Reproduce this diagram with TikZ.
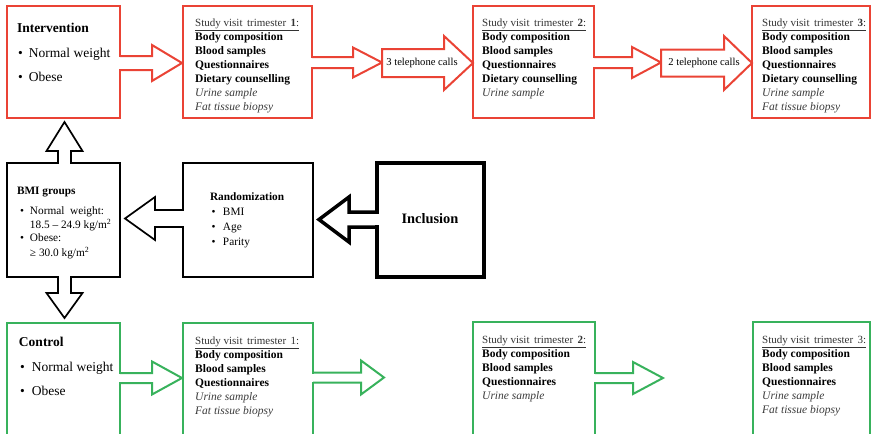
\documentclass[tikz,border=0pt]{standalone}
\usepackage{fontspec}
\setmainfont{Liberation Serif}
\usetikzlibrary{calc}
\definecolor{redc}{RGB}{234,67,53}
\definecolor{greenc}{RGB}{56,178,92}
\definecolor{txtgray}{RGB}{60,60,60}
% horizontal block arrow merged with the box it leaves
% #1 style, #2 from anchor, #3 to anchor, #4 y(px), #5 shaft half, #6 head half, #7 head length, #8 gap, #9 dir (+1 right, -1 left)
\newcommand{\harr}[9]{%
 \fill[#1,draw=none,fill=white] let \p1=(#2),\p2=(#3) in
  ({\x1-(#9)*\pgflinewidth},{-(#4-#5)*1pt-0.5*\pgflinewidth}) rectangle ({\x2-(#9)*(#8+#7)*1pt},{-(#4+#5)*1pt+0.5*\pgflinewidth});
 \draw[#1] let \p1=(#2),\p2=(#3) in
  (\x1,{-(#4-#5)*1pt}) -- ({\x2-(#9)*(#8+#7)*1pt},{-(#4-#5)*1pt}) -- ({\x2-(#9)*(#8+#7)*1pt},{-(#4-#6)*1pt})
  -- ({\x2-(#9)*(#8)*1pt},{-(#4)*1pt}) -- ({\x2-(#9)*(#8+#7)*1pt},{-(#4+#6)*1pt})
  -- ({\x2-(#9)*(#8+#7)*1pt},{-(#4+#5)*1pt}) -- (\x1,{-(#4+#5)*1pt});}
% vertical block arrow: #4 x(px), #9 dir (+1 down, -1 up)
\newcommand{\varr}[9]{%
 \fill[#1,draw=none,fill=white] let \p1=(#2),\p2=(#3) in
  ({(#4-#5)*1pt+0.5*\pgflinewidth},{\y1+(#9)*\pgflinewidth}) rectangle ({(#4+#5)*1pt-0.5*\pgflinewidth},{\y2+(#9)*(#8+#7)*1pt});
 \draw[#1] let \p1=(#2),\p2=(#3) in
  ({(#4-#5)*1pt},\y1) -- ({(#4-#5)*1pt},{\y2+(#9)*(#8+#7)*1pt}) -- ({(#4-#6)*1pt},{\y2+(#9)*(#8+#7)*1pt})
  -- ({(#4)*1pt},{\y2+(#9)*(#8)*1pt}) -- ({(#4+#6)*1pt},{\y2+(#9)*(#8+#7)*1pt})
  -- ({(#4+#5)*1pt},{\y2+(#9)*(#8+#7)*1pt}) -- ({(#4+#5)*1pt},\y1);}
% closed block arrow (text carrier)
\newcommand{\blockarr}[7]{%
 \draw[#1,fill=white] let \p1=(#2),\p2=(#3) in
  (\x1,{-(#4-#5)*1pt}) -- ({\x2-(#7)*1pt},{-(#4-#5)*1pt}) -- ({\x2-(#7)*1pt},{-(#4-#6)*1pt})
  -- (\x2,{-(#4)*1pt}) -- ({\x2-(#7)*1pt},{-(#4+#6)*1pt}) -- ({\x2-(#7)*1pt},{-(#4+#5)*1pt})
  -- (\x1,{-(#4+#5)*1pt}) -- cycle;}
\newcommand{\svhead}[1]{\rule{0pt}{10pt}{\fontsize{11}{14}\selectfont\color{black!80}\underline{Study visit\hspace{4.5pt}trimester\hspace{4.5pt}#1:}}}
\newcommand{\ital}[1]{{\color{txtgray}\itshape #1}}
\begin{document}
\begin{tikzpicture}[x=1pt,y=-1pt,
  redline/.style={draw=redc,line width=2pt},
  greenline/.style={draw=greenc,line width=2pt},
  blkline/.style={draw=black,line width=1.7pt},
  thickline/.style={draw=black,line width=3.5pt},
  boxbase/.style={fill=white,inner sep=0pt,outer sep=0pt,anchor=north west},
  lbl/.style={anchor=base west,inner sep=0pt,outer sep=0pt},
  svtxt/.style={anchor=north west,inner sep=0pt,align=left,font=\fontsize{11.5}{14}\selectfont},
  bigtxt/.style={lbl,font=\fontsize{13.5}{16}\selectfont},
  midtxt/.style={lbl,font=\fontsize{11.3}{14}\selectfont}]
\useasboundingbox (0,0) rectangle (871,434);
\clip (0,0) rectangle (871,434);
% boxes
\node[boxbase,redline,minimum width=113pt,minimum height=112pt] (int) at (7,6) {};
\node[boxbase,redline,minimum width=129pt,minimum height=112pt] (sv1) at (183,6) {};
\node[boxbase,redline,minimum width=121pt,minimum height=112pt] (sv2) at (473,6) {};
\node[boxbase,redline,minimum width=118pt,minimum height=112pt] (sv3) at (752,6) {};
\node[boxbase,blkline,minimum width=113pt,minimum height=114pt] (bmi) at (7,163) {};
\node[boxbase,blkline,minimum width=130pt,minimum height=114pt] (rand) at (183,163) {};
\node[boxbase,thickline,minimum width=107pt,minimum height=114pt] (incl) at (377,163) {};
\node[boxbase,greenline,minimum width=113pt,minimum height=130pt] (ctrl) at (7,323) {};
\node[boxbase,greenline,minimum width=130pt,minimum height=130pt] (gsv1) at (183,323) {};
\node[boxbase,greenline,minimum width=122pt,minimum height=130pt] (gsv2) at (473,322) {};
\node[boxbase,greenline,minimum width=117pt,minimum height=130pt] (gsv3) at (753,322) {};
\coordinate (tel1in) at (382,63);
\coordinate (tel2in) at (661,63);
\coordinate (g1end) at (384,378);
\coordinate (g2end) at (663,378);
% arrows
\harr{redline}{int.east}{sv1.west}{63}{7}{18}{30}{1}{1}
\harr{redline}{sv1.east}{tel1in}{62.5}{5.5}{15}{29}{0}{1}
\blockarr{redline}{tel1in}{sv2.west}{63}{14}{27}{29}
\harr{redline}{sv2.east}{tel2in}{62.5}{5.5}{15.5}{29}{0}{1}
\blockarr{redline}{tel2in}{sv3.west}{63}{13.5}{27}{28}
\varr{blkline}{bmi.north}{int.south}{64.5}{6.5}{18}{29}{4}{-1}
\varr{blkline}{bmi.south}{ctrl.north}{64.5}{6.5}{18}{25}{5}{1}
\harr{blkline}{rand.west}{bmi.east}{218.5}{8.5}{21.5}{30}{5}{-1}
\harr{thickline}{incl.west}{rand.east}{219.5}{7.5}{22.5}{30}{6}{-1}
\harr{greenline}{ctrl.east}{gsv1.west}{378}{5}{16.5}{30}{1}{1}
\harr{greenline}{gsv1.east}{g1end}{377.5}{5}{17}{23}{0}{1}
\harr{greenline}{gsv2.east}{g2end}{378}{5}{16}{30}{0}{1}
% texts
\node[font=\fontsize{10.6}{12}\selectfont,inner sep=0pt] (tel1) at (422,63) {3 telephone calls};
\node[font=\fontsize{10.6}{12}\selectfont,inner sep=0pt] (tel2) at (704,63) {2 telephone calls};
\node[bigtxt,font=\fontsize{13.5}{16}\selectfont\bfseries] (intT) at (17,32.5) {Intervention};
\node[bigtxt] (intB1) at (18,57.5) {\makebox[11pt][l]{•}Normal weight};
\node[bigtxt] (intB2) at (18,81.5) {\makebox[11pt][l]{•}Obese};
\node[bigtxt,font=\fontsize{13.5}{16}\selectfont\bfseries] (ctrlT) at (19,346.5) {Control};
\node[bigtxt] (ctrlB1) at (20,371.5) {\makebox[12pt][l]{•}Normal weight};
\node[bigtxt] (ctrlB2) at (20,395.5) {\makebox[12pt][l]{•}Obese};
\node[midtxt,font=\fontsize{11.3}{14}\selectfont\bfseries] (bmiT) at (17,194.7) {BMI groups};
\node[midtxt] (bmiB1) at (20,214.7) {\makebox[10pt][l]{•}Normal\ \ weight:};
\node[midtxt] (bmiB1b) at (30,228.7) {18.5 – 24.9 kg/m\textsuperscript{2}};
\node[midtxt] (bmiB2) at (20,241.7) {\makebox[10pt][l]{•}Obese:};
\node[midtxt] (bmiB2b) at (30,256.7) {≥ 30.0 kg/m\textsuperscript{2}};
\node[midtxt,font=\fontsize{11.3}{14}\selectfont\bfseries] (randT) at (210,200.7) {Randomization};
\node[midtxt] (randB1) at (211.5,215.7) {\makebox[11.5pt][l]{•}BMI};
\node[midtxt] (randB2) at (211.5,230.7) {\makebox[11.5pt][l]{•}Age};
\node[midtxt] (randB3) at (211.5,245.7) {\makebox[11.5pt][l]{•}Parity};
\node[font=\fontsize{14.4}{16}\selectfont\bfseries,inner sep=0pt] (inclT) at (430,219) {Inclusion};
\node[svtxt] (sv1t) at (195,15.8) {\svhead{\textbf{1}}\\\textbf{Body composition}\\\textbf{Blood samples}\\\textbf{Questionnaires}\\\textbf{Dietary counselling}\\\ital{Urine sample}\\\ital{Fat tissue biopsy}};
\node[svtxt] (sv2t) at (482,15.8) {\svhead{\textbf{2}}\\\textbf{Body composition}\\\textbf{Blood samples}\\\textbf{Questionnaires}\\\textbf{Dietary counselling}\\\ital{Urine sample}};
\node[svtxt] (sv3t) at (762,15.8) {\svhead{\textbf{3}}\\\textbf{Body composition}\\\textbf{Blood samples}\\\textbf{Questionnaires}\\\textbf{Dietary counselling}\\\ital{Urine sample}\\\ital{Fat tissue biopsy}};
\node[svtxt] (gsv1t) at (195,333.8) {\svhead{1}\\\textbf{Body composition}\\\textbf{Blood samples}\\\textbf{Questionnaires}\\\ital{Urine sample}\\\ital{Fat tissue biopsy}};
\node[svtxt] (gsv2t) at (482,332.8) {\svhead{\textbf{2}}\\\textbf{Body composition}\\\textbf{Blood samples}\\\textbf{Questionnaires}\\\ital{Urine sample}};
\node[svtxt] (gsv3t) at (762,332.8) {\svhead{3}\\\textbf{Body composition}\\\textbf{Blood samples}\\\textbf{Questionnaires}\\\ital{Urine sample}\\\ital{Fat tissue biopsy}};
\end{tikzpicture}
\end{document}
